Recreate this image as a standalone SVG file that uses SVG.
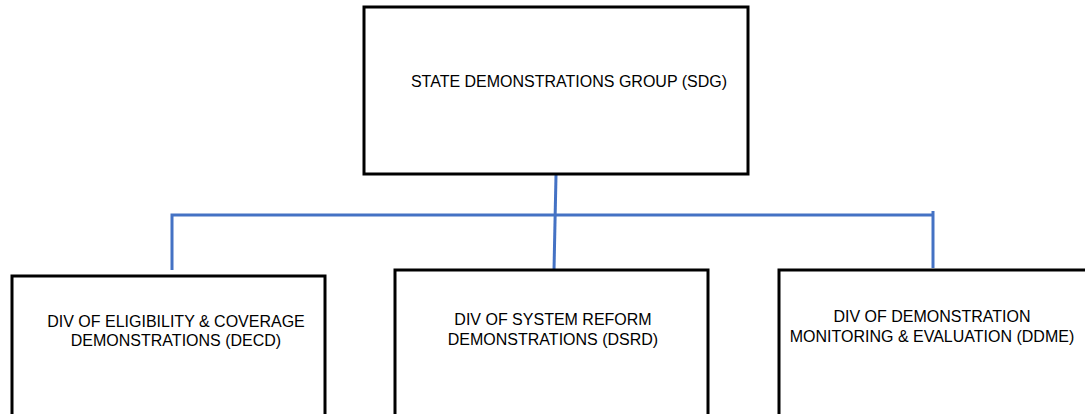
<svg xmlns="http://www.w3.org/2000/svg" width="1085" height="414" viewBox="0 0 1085 414">
<style>
.box{fill:#fff;stroke:#000;stroke-width:3}
.lbl{font-family:"Liberation Sans",Arial,sans-serif;font-size:16px;fill:#000;text-anchor:middle}
.conn{fill:none;stroke:#4472C4;stroke-width:3}
</style>
<rect width="1085" height="414" fill="#fff"/>
<g id="connectors">
<path class="conn" d="M172 270 V215 H933"/>
<path class="conn" d="M933 211 V268"/>
<path class="conn" d="M556 175 L554 270"/>
</g>
<g id="sdg">
<rect class="box" x="364" y="7" width="384" height="167"/>
<text class="lbl" x="569" y="87">STATE DEMONSTRATIONS GROUP (SDG)</text>
</g>
<g id="decd">
<rect class="box" x="12" y="276" width="313" height="150"/>
<text class="lbl" x="176" y="327">DIV OF ELIGIBILITY &amp; COVERAGE</text>
<text class="lbl" x="176" y="346">DEMONSTRATIONS (DECD)</text>
</g>
<g id="dsrd">
<rect class="box" x="395" y="270" width="313" height="156"/>
<text class="lbl" x="553" y="325">DIV OF SYSTEM REFORM</text>
<text class="lbl" x="553" y="345">DEMONSTRATIONS (DSRD)</text>
</g>
<g id="ddme">
<rect class="box" x="779" y="270" width="320" height="156"/>
<text class="lbl" x="932" y="322">DIV OF DEMONSTRATION</text>
<text class="lbl" x="932" y="342">MONITORING &amp; EVALUATION (DDME)</text>
</g>
</svg>
